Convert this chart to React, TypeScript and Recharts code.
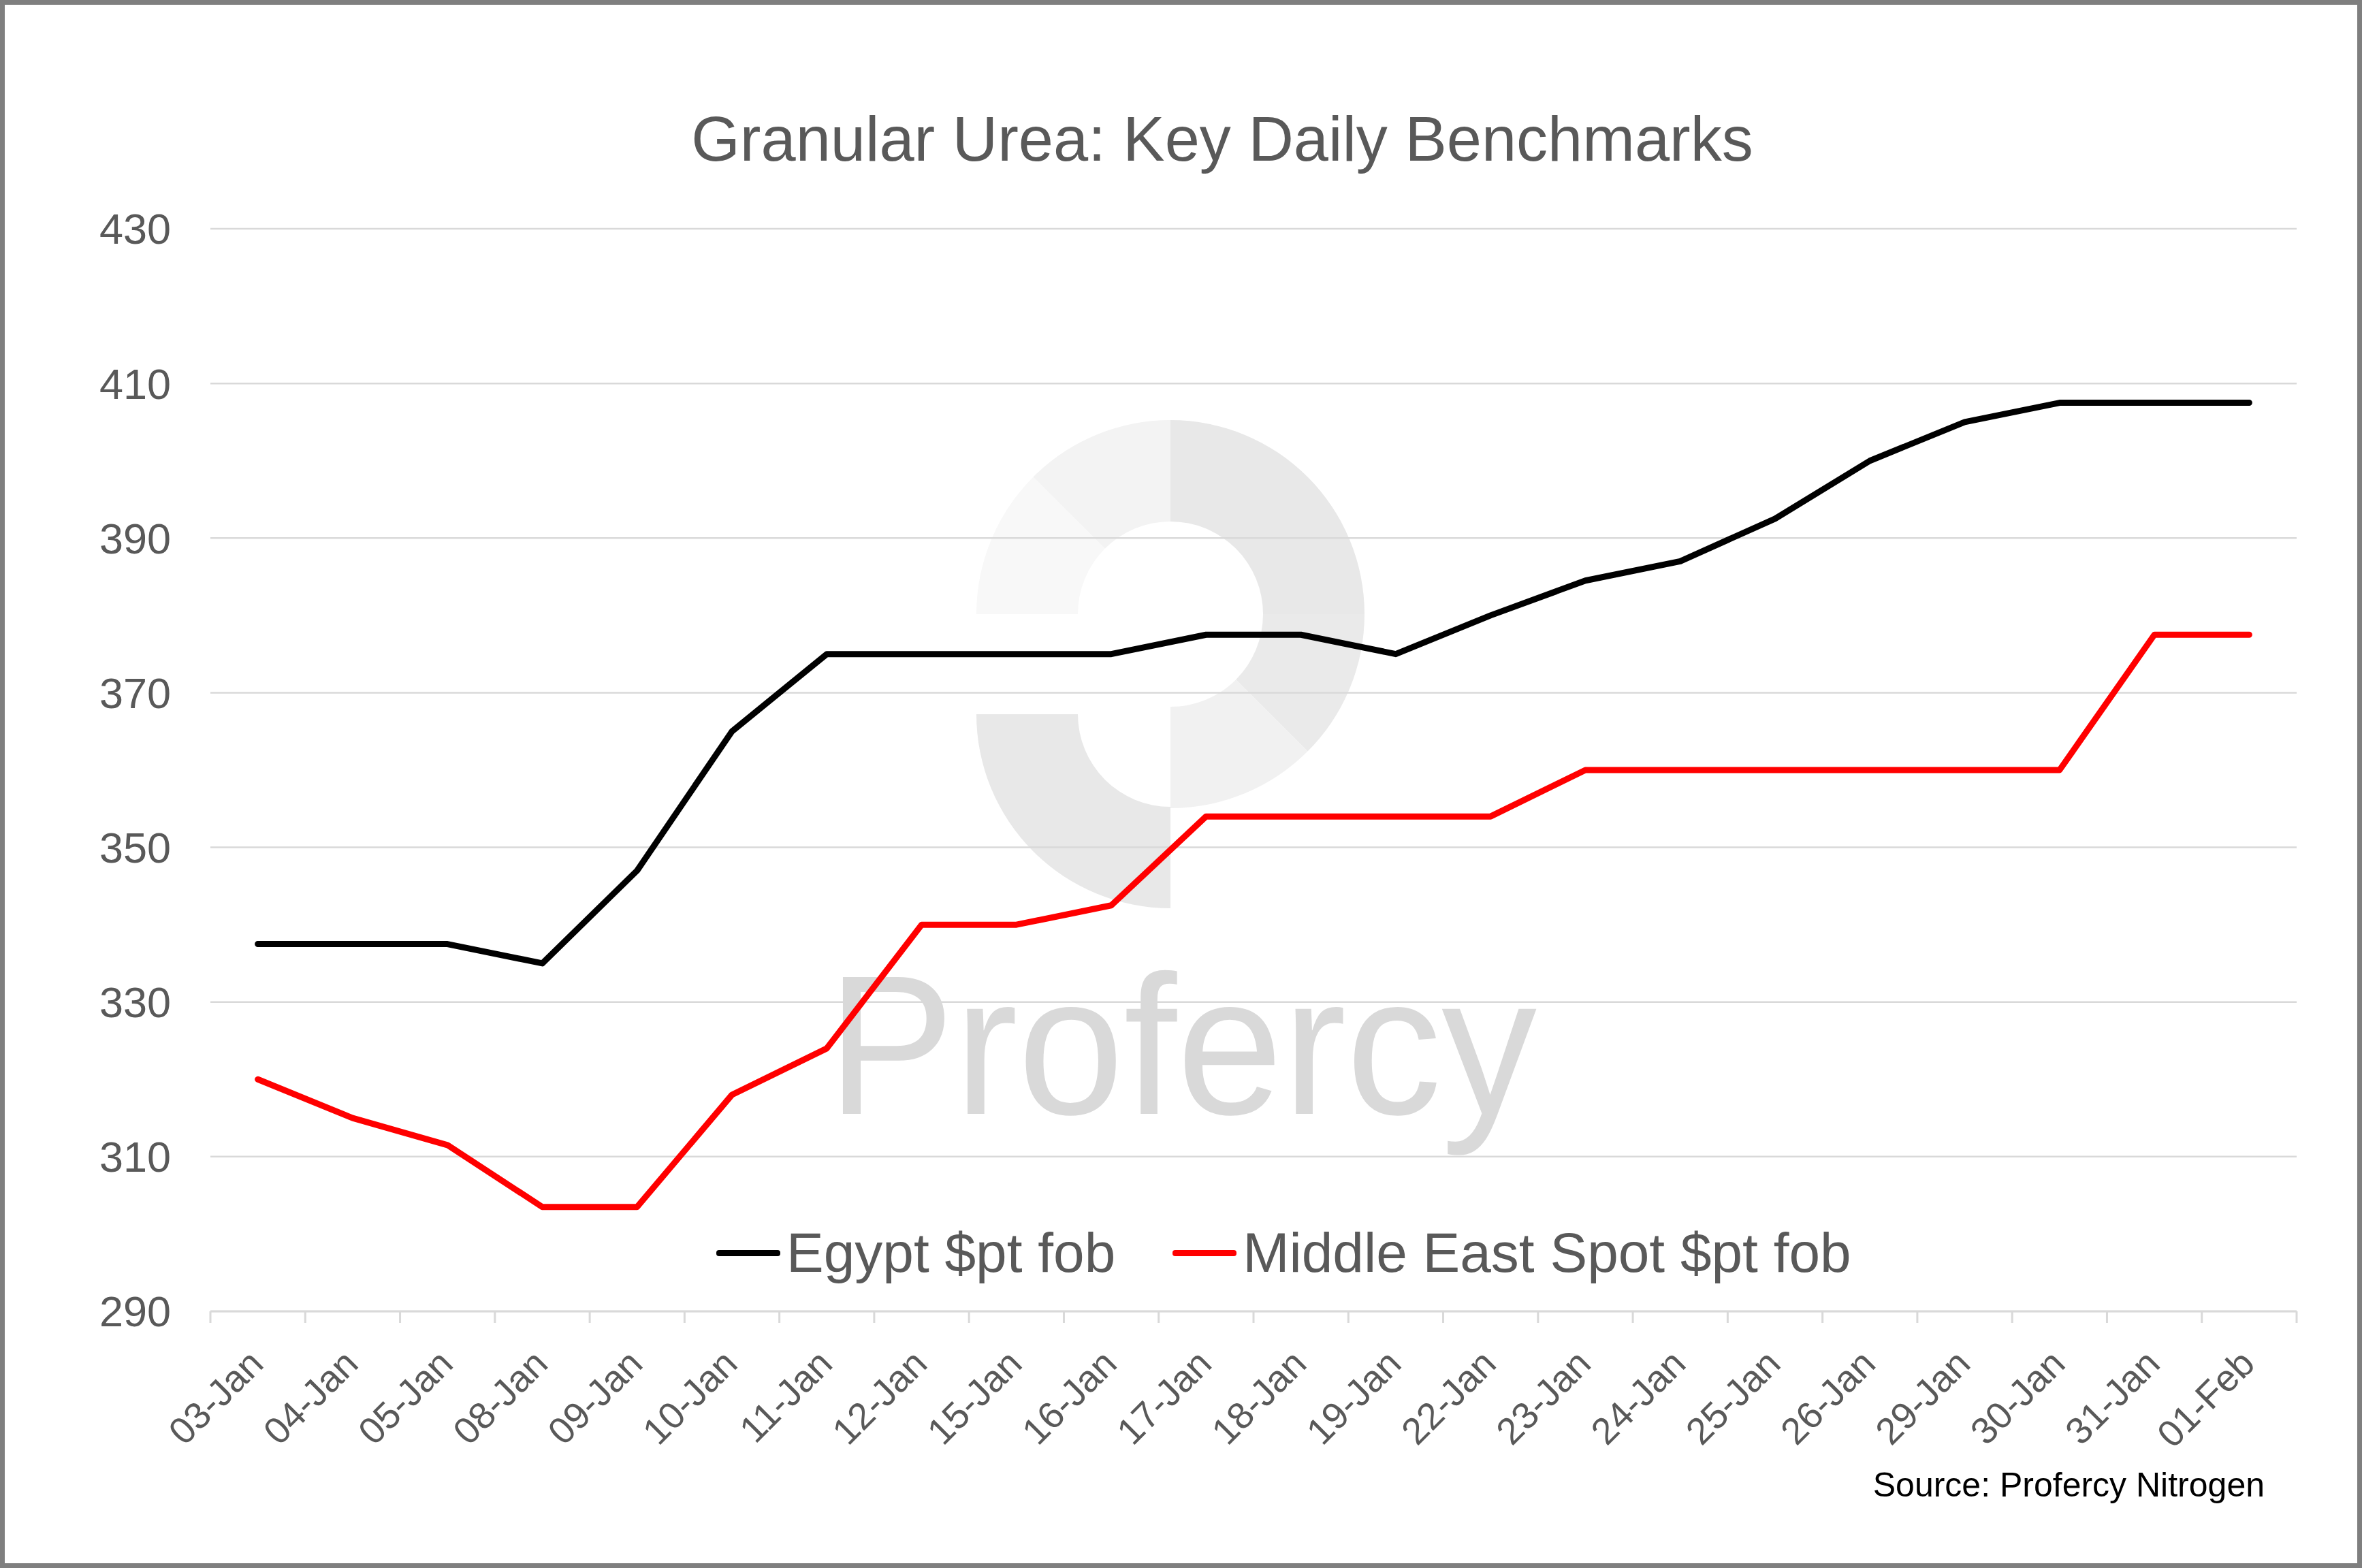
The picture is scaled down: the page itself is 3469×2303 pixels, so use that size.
import React from 'react';
import { LineChart, Line, XAxis, YAxis, CartesianGrid, Legend } from 'recharts';

const categories = ['03-Jan', '04-Jan', '05-Jan', '08-Jan', '09-Jan', '10-Jan', '11-Jan', '12-Jan', '15-Jan', '16-Jan', '17-Jan', '18-Jan', '19-Jan', '22-Jan', '23-Jan', '24-Jan', '25-Jan', '26-Jan', '29-Jan', '30-Jan', '31-Jan', '01-Feb'];
const egypt = [337.5, 337.5, 337.5, 335, 347, 365, 375, 375, 375, 375, 377.5, 377.5, 375, 380, 384.5, 387, 392.5, 400, 405, 407.5, 407.5, 407.5];
const middleEast = [320, 315, 311.5, 303.5, 303.5, 318, 324, 340, 340, 342.5, 354, 354, 354, 354, 360, 360, 360, 360, 360, 360, 377.5, 377.5];
const yTicks = [290, 310, 330, 350, 370, 390, 410, 430];
const seriesNames = ['Egypt $pt fob', 'Middle East Spot $pt fob'];

const data = categories.map((c, i) => ({ date: c, egypt: egypt[i], me: middleEast[i] }));

const W = 3469;
const H = 2303;
const FONT = '"Liberation Sans", Arial, sans-serif';
const MARGIN = { top: 336, right: 96, bottom: 177, left: 209 };
const YW = 100;
const XH = 200;
const BAND = (W - MARGIN.left - YW - MARGIN.right) / categories.length;

function sector(cx: number, cy: number, r0: number, r1: number, a0: number, a1: number) {
  const p = (r: number, a: number) => {
    const t = (a * Math.PI) / 180;
    return [cx + r * Math.cos(t), cy - r * Math.sin(t)];
  };
  const [ox0, oy0] = p(r1, a0);
  const [ox1, oy1] = p(r1, a1);
  const [ix1, iy1] = p(r0, a1);
  const [ix0, iy0] = p(r0, a0);
  return `M${ox0},${oy0} A${r1},${r1} 0 0 0 ${ox1},${oy1} L${ix1},${iy1} A${r0},${r0} 0 0 1 ${ix0},${iy0} Z`;
}

const Watermark = () => {
  const c1 = [1719, 902];
  const c2 = [1719, 1049];
  const r0 = 136;
  const r1 = 285;
  return (
    <svg width={W} height={H} style={{ position: 'absolute', left: 0, top: 0 }}>
      <path d={sector(c1[0], c1[1], r0, r1, 135, 180)} fill="#f8f8f8" />
      <path d={sector(c1[0], c1[1], r0, r1, 90, 135)} fill="#f3f3f3" />
      <path d={sector(c1[0], c1[1], r0, r1, 0, 90)} fill="#e8e8e8" />
      <path d={sector(c1[0], c1[1], r0, r1, -45, 0)} fill="#eaeaea" />
      <path d={sector(c1[0], c1[1], r0, r1, -90, -45)} fill="#f1f1f1" />
      <path d={sector(c2[0], c2[1], r0, r1, 180, 270)} fill="#e8e8e8" />
      <text x={1215} y={1636} fontSize={292} fontFamily={FONT} fill="#d9d9d9" textLength={1042} lengthAdjust="spacingAndGlyphs">Profercy</text>
    </svg>
  );
};

const XTick = (props: any) => {
  const { x, y, payload, index } = props;
  const half = BAND / 2;
  const isLast = index === categories.length - 1;
  const tx = x + 11;
  const ty = y + 80;
  return (
    <g>
      <line x1={x - half} x2={x - half} y1={y} y2={y + 17} stroke="#d9d9d9" strokeWidth={3} />
      {isLast && <line x1={x + half} x2={x + half} y1={y} y2={y + 17} stroke="#d9d9d9" strokeWidth={3} />}
      <text x={tx} y={ty} transform={`rotate(-45 ${tx} ${ty})`} textAnchor="end" fontSize={55} fill="#595959" fontFamily={FONT}>
        {payload.value}
      </text>
    </g>
  );
};

const renderLegend = (props: any) => {
  const items = props.payload || [];
  return (
    <div style={{ display: 'flex', alignItems: 'center', fontFamily: FONT, fontSize: 82, color: '#595959', lineHeight: 1, whiteSpace: 'nowrap' }}>
      {items.map((p: any, i: number) => (
        <div key={i} style={{ display: 'flex', alignItems: 'center', marginLeft: i ? 84 : 0 }}>
          <span style={{ display: 'inline-block', width: 94, height: 9, background: p.color, borderRadius: 4, marginRight: 9 }} />
          <span>{p.value}</span>
        </div>
      ))}
    </div>
  );
};

export default function App() {
  return (
    <div style={{ position: 'absolute', left: 0, top: 0, width: W, height: H, background: '#fff', overflow: 'hidden' }}>
      <Watermark />
      <div style={{ position: 'absolute', left: 0, top: 0 }}>
        <LineChart width={W} height={H} data={data} margin={MARGIN}>
          <CartesianGrid horizontal vertical={false} stroke="#d9d9d9" strokeWidth={2.5} />
          <XAxis
            dataKey="date"
            interval={0}
            height={XH}
            tickSize={0}
            tickMargin={0}
            tickLine={false}
            padding={{ left: BAND / 2, right: BAND / 2 }}
            axisLine={{ stroke: '#d9d9d9', strokeWidth: 3 }}
            tick={<XTick />}
          />
          <YAxis
            domain={[290, 430]}
            ticks={yTicks}
            width={YW}
            axisLine={false}
            tickLine={false}
            tickSize={0}
            tickMargin={58}
            tick={{ fontSize: 63, fill: '#595959', fontFamily: FONT }}
          />
          <Legend
            verticalAlign="middle"
            align="center"
            layout="horizontal"
            content={renderLegend}
            wrapperStyle={{ position: 'absolute', left: 1052, top: 1799, width: 1900, height: 90 }}
          />
          <Line dataKey="egypt" name={seriesNames[0]} stroke="#000000" strokeWidth={9} dot={false} strokeLinecap="round" strokeLinejoin="round" isAnimationActive={false} />
          <Line dataKey="me" name={seriesNames[1]} stroke="#ff0000" strokeWidth={9} dot={false} strokeLinecap="round" strokeLinejoin="round" isAnimationActive={false} />
        </LineChart>
      </div>
      <svg width={W} height={H} style={{ position: 'absolute', left: 0, top: 0, pointerEvents: 'none' }}>
        <text x={1795} y={236} textAnchor="middle" fontSize={92} fill="#595959" fontFamily={FONT}>Granular Urea: Key Daily Benchmarks</text>
        <text x={3326} y={2198} textAnchor="end" fontSize={50} fill="#000000" fontFamily={FONT}>Source: Profercy Nitrogen</text>
      </svg>
      <div style={{ position: 'absolute', left: 0, top: 0, width: W, height: H, border: '7px solid #7f7f7f', boxSizing: 'border-box', pointerEvents: 'none' }} />
    </div>
  );
}
